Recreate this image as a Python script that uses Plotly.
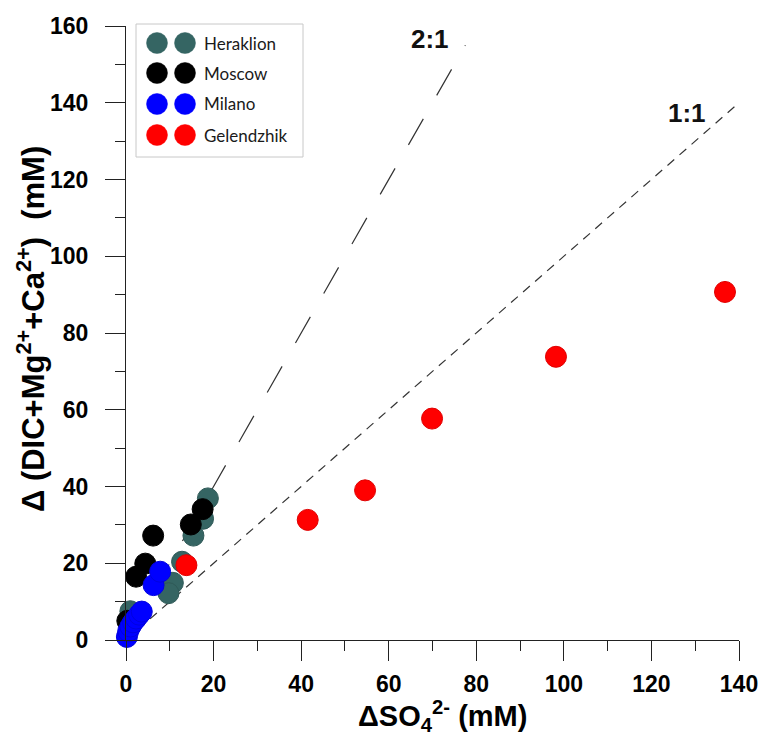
import plotly.graph_objects as go

# ---------------- data ----------------
series_names = ["Heraklion", "Moscow", "Milano", "Gelendzhik"]
series_colors = ["#356563", "#000000", "#0000ff", "#ff0000"]
series_edges = ["#2f5957", "#000000", "#0000e0", "#e00000"]

heraklion_x = [18.7, 17.6, 15.4, 12.8, 10.7, 9.7, 1.0]
heraklion_y = [36.9, 31.6, 27.2, 20.4, 14.9, 12.2, 7.5]

moscow_x = [6.2, 14.8, 17.5, 4.4, 2.3, 0.3]
moscow_y = [27.2, 30.1, 34.1, 19.9, 16.5, 5.0]

milano_x = [0.2, 0.5, 1.0, 1.6, 2.3, 3.0, 3.6, 6.3, 7.8]
milano_y = [0.8, 2.3, 3.5, 4.6, 5.6, 6.6, 7.4, 14.3, 17.8]

gelendzhik_x = [13.8, 41.5, 54.6, 69.9, 98.2, 136.8]
gelendzhik_y = [19.5, 31.3, 39.0, 57.7, 73.8, 90.7]

line_11_x = [0, 140]
line_11_y = [0, 140]
line_21_x = [0, 77.5]
line_21_y = [0, 155]

x_ticks = [0, 20, 40, 60, 80, 100, 120, 140]
y_ticks = [0, 20, 40, 60, 80, 100, 120, 140, 160]

x_title = "<b>ΔSO<sub>4</sub><sup>2-</sup> (mM)</b>"
y_title = "<b>Δ (DIC+Mg<sup>2+</sup>+Ca<sup>2+</sup>)  (mM)</b>"

series_x = [heraklion_x, moscow_x, milano_x, gelendzhik_x]
series_y = [heraklion_y, moscow_y, milano_y, gelendzhik_y]

# ---------------- layout constants ----------------
W, H = 763, 736
ML, MR, MT, MB = 126, 24, 26, 96
PW, PH = W - ML - MR, H - MT - MB

def px2paper_x(px):
    return (px - ML) / PW

def px2paper_y(py):
    return (H - MB - py) / PH

AX_FONT = "Liberation Sans, Arial, sans-serif"

fig = go.Figure()

# ratio lines
fig.add_trace(go.Scatter(x=line_21_x, y=line_21_y, mode="lines",
                         line=dict(color="#333333", width=1.2, dash="30px,27px"),
                         showlegend=False, hoverinfo="skip"))
fig.add_trace(go.Scatter(x=line_11_x, y=line_11_y, mode="lines",
                         line=dict(color="#333333", width=1.2, dash="9px,7px"),
                         showlegend=False, hoverinfo="skip"))

for name, xs, ys, col, edge in zip(series_names, series_x, series_y, series_colors, series_edges):
    fig.add_trace(go.Scatter(
        x=xs, y=ys, mode="markers", name=name,
        marker=dict(size=21, color=col, line=dict(color=edge, width=1)),
        cliponaxis=False, showlegend=False))

# ratio labels
fig.add_annotation(x=69.5, y=156.6, xref="x", yref="y", text="<b>2:1</b>",
                   showarrow=False, font=dict(family=AX_FONT, size=26, color="#111111"))
fig.add_annotation(x=128.1, y=137.3, xref="x", yref="y", text="<b>1:1</b>",
                   showarrow=False, font=dict(family=AX_FONT, size=26, color="#111111"))

# axis titles
fig.add_annotation(x=px2paper_x(442), y=px2paper_y(716), xref="paper", yref="paper",
                   text=x_title, showarrow=False, xanchor="center", yanchor="middle",
                   font=dict(family=AX_FONT, size=29, color="#000000"))
fig.add_annotation(x=px2paper_x(31), y=px2paper_y(329), xref="paper", yref="paper",
                   text=y_title, showarrow=False, xanchor="center", yanchor="middle",
                   textangle=-90,
                   font=dict(family=AX_FONT, size=31, color="#000000"))

# custom legend (two symbols per entry, as in the original)
shapes = [dict(type="rect", xref="paper", yref="paper",
               x0=px2paper_x(136), x1=px2paper_x(303),
               y0=px2paper_y(157), y1=px2paper_y(24),
               line=dict(color="#c8c8c8", width=1), fillcolor="white", layer="below")]
row_y = [43, 73, 104, 135]
for i, (name, col) in enumerate(zip(series_names, series_colors)):
    yc = px2paper_y(row_y[i])
    for cx in (157, 185):
        shapes.append(dict(type="circle", xref="paper", yref="paper",
                           xsizemode="pixel", ysizemode="pixel",
                           xanchor=px2paper_x(cx), yanchor=yc,
                           x0=-10.5, x1=10.5, y0=-10.5, y1=10.5,
                           fillcolor=col, line=dict(color=col, width=0.5)))
    fig.add_annotation(x=px2paper_x(202), y=yc, xref="paper", yref="paper",
                       text=name, showarrow=False, xanchor="left", yanchor="middle",
                       font=dict(family="Lato, Open Sans, sans-serif", size=17, color="#1a1a1a"))

common_axis = dict(
    showgrid=False, zeroline=False, showline=True, linecolor="#222222", linewidth=1.3,
    ticks="outside", ticklen=20, tickwidth=1.3, tickcolor="#222222",
    minor=dict(dtick=10, tick0=0, ticks="outside", ticklen=10, tickwidth=1.3,
               tickcolor="#222222", showgrid=False),
    tickfont=dict(family=AX_FONT, size=23, color="#000000"),
)

fig.update_layout(
    width=W, height=H,
    margin=dict(l=ML, r=MR, t=MT, b=MB, autoexpand=False),
    paper_bgcolor="white", plot_bgcolor="white",
    shapes=shapes,
    font=dict(family=AX_FONT, color="#000000"),
    xaxis=dict(range=[0, 140], tickvals=x_ticks,
               ticktext=[f"<b>{v}</b>" for v in x_ticks],
               ticklabelstandoff=3, **common_axis),
    yaxis=dict(range=[0, 160], tickvals=y_ticks,
               ticktext=[f"<b>{v}</b>" for v in y_ticks],
               ticklabelstandoff=12, **common_axis),
)

fig.write_html("out.html")
